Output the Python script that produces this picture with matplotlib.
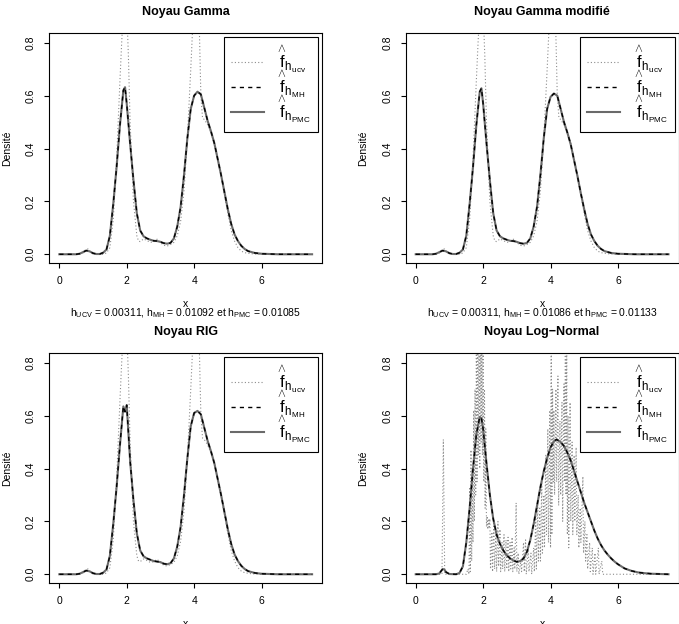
import matplotlib
matplotlib.use("Agg")
import matplotlib.pyplot as plt

plt.rcParams["font.family"] = ["Liberation Sans", "DejaVu Sans"]
plt.rcParams["mathtext.fontset"] = "custom"
plt.rcParams["mathtext.rm"] = "Liberation Sans"
plt.rcParams["mathtext.it"] = "Liberation Sans"
plt.rcParams["mathtext.bf"] = "Liberation Sans:bold"
plt.rcParams["mathtext.default"] = "rm"

# grille commune des estimateurs lisses (h_MH, h_PMC)
x_lisse = [0.0, 0.5, 0.6, 0.7, 0.8, 0.9, 1.0, 1.1, 1.2, 1.3, 1.4, 1.5, 1.6, 1.7, 1.8,
           1.9, 1.95, 2.0, 2.1, 2.2, 2.3, 2.4, 2.5, 2.6, 2.7, 2.8, 2.9, 3.0, 3.1, 3.2,
           3.3, 3.4, 3.5, 3.6, 3.7, 3.8, 3.9, 4.0, 4.1, 4.2, 4.3, 4.4, 4.5, 4.6, 4.7,
           4.8, 4.9, 5.0, 5.1, 5.2, 5.3, 5.4, 5.5, 5.6, 5.8, 6.0, 6.5, 7.5]

gamma_pmc = [0.0, 0.0, 0.002, 0.008, 0.014, 0.011, 0.004, 0.001, 0.001, 0.006, 0.018, 0.07,
             0.19, 0.33, 0.49, 0.62, 0.632, 0.57, 0.42, 0.28, 0.155, 0.09, 0.068, 0.06, 0.055,
             0.051, 0.05, 0.047, 0.042, 0.04, 0.043, 0.06, 0.105, 0.18, 0.30, 0.44, 0.55, 0.60,
             0.615, 0.605, 0.555, 0.505, 0.465, 0.42, 0.36, 0.30, 0.235, 0.17, 0.115, 0.075,
             0.05, 0.032, 0.02, 0.012, 0.005, 0.002, 0.0, 0.0]
gamma_mh = gamma_pmc

gmod_pmc = [0.0, 0.0, 0.002, 0.008, 0.014, 0.011, 0.004, 0.001, 0.001, 0.006, 0.018, 0.07,
            0.19, 0.33, 0.49, 0.615, 0.628, 0.57, 0.42, 0.28, 0.155, 0.09, 0.068, 0.06, 0.055,
            0.051, 0.05, 0.047, 0.042, 0.04, 0.043, 0.06, 0.105, 0.18, 0.30, 0.44, 0.55, 0.595,
            0.608, 0.60, 0.55, 0.50, 0.46, 0.415, 0.355, 0.295, 0.23, 0.17, 0.115, 0.075,
            0.05, 0.032, 0.02, 0.012, 0.005, 0.002, 0.0, 0.0]
gmod_mh = gmod_pmc

rig_pmc = [0.0, 0.0, 0.002, 0.008, 0.014, 0.011, 0.004, 0.001, 0.001, 0.006, 0.018, 0.07,
           0.19, 0.33, 0.49, 0.635, 0.615, 0.64, 0.43, 0.28, 0.155, 0.09, 0.068, 0.06, 0.055,
           0.05, 0.048, 0.046, 0.04, 0.038, 0.042, 0.06, 0.105, 0.18, 0.30, 0.44, 0.56, 0.61,
           0.618, 0.605, 0.555, 0.505, 0.465, 0.42, 0.36, 0.30, 0.235, 0.17, 0.115, 0.075,
           0.05, 0.032, 0.02, 0.012, 0.005, 0.002, 0.0, 0.0]
rig_mh = rig_pmc

# estimateur h_ucv (pointillé) pour Gamma, Gamma modifié et RIG
x_ucv = [0.0, 0.6, 0.7, 0.8, 0.85, 0.9, 1.0, 1.3, 1.4, 1.5, 1.6, 1.7, 1.8, 1.85, 1.9, 1.95,
         2.0, 2.05, 2.1, 2.2, 2.3, 2.35, 2.4, 2.5, 2.6, 2.7, 2.8, 2.9, 3.0, 3.1, 3.2, 3.3,
         3.4, 3.5, 3.6, 3.7, 3.8, 3.9, 3.95, 4.0, 4.05, 4.1, 4.15, 4.2, 4.25, 4.3, 4.4, 4.5,
         4.6, 4.7, 4.8, 4.9, 5.0, 5.1, 5.2, 5.3, 5.4, 5.5, 5.7, 6.0, 7.5]
y_ucv = [0.0, 0.0, 0.005, 0.02, 0.02, 0.012, 0.002, 0.0, 0.005, 0.025, 0.13, 0.36, 0.66,
         0.80, 0.92, 1.0, 0.93, 0.75, 0.50, 0.20, 0.07, 0.05, 0.048, 0.058, 0.052, 0.045,
         0.047, 0.057, 0.044, 0.034, 0.031, 0.037, 0.045, 0.07, 0.125, 0.24, 0.44, 0.70,
         0.84, 0.95, 0.95, 0.92, 0.88, 0.60, 0.515, 0.51, 0.49, 0.46, 0.42, 0.36, 0.30,
         0.225, 0.155, 0.09, 0.05, 0.025, 0.012, 0.006, 0.002, 0.0, 0.0]

# noyau log-normal
x_lnorm = [0.0, 0.6, 0.7, 0.8, 0.85, 0.9, 1.0, 1.2, 1.3, 1.4, 1.5, 1.6, 1.7, 1.8, 1.9,
           1.95, 2.0, 2.1, 2.2, 2.3, 2.4, 2.5, 2.6, 2.7, 2.8, 2.9, 3.0, 3.1, 3.2, 3.3, 3.4,
           3.5, 3.6, 3.7, 3.8, 3.9, 4.0, 4.1, 4.18, 4.3, 4.4, 4.5, 4.6, 4.7, 4.8, 4.9, 5.0,
           5.1, 5.2, 5.3, 5.4, 5.5, 5.6, 5.7, 5.8, 5.9, 6.0, 6.2, 6.4, 6.6, 6.8, 7.0, 7.5]
lnorm_pmc = [0.0, 0.0, 0.003, 0.02, 0.018, 0.008, 0.001, 0.0, 0.005, 0.03, 0.12, 0.25,
             0.40, 0.53, 0.595, 0.59, 0.55, 0.42, 0.30, 0.21, 0.15, 0.115, 0.09, 0.072,
             0.06, 0.052, 0.047, 0.05, 0.06, 0.085, 0.13, 0.19, 0.26, 0.33, 0.39, 0.44,
             0.48, 0.503, 0.51, 0.50, 0.485, 0.46, 0.43, 0.39, 0.35, 0.31, 0.27, 0.235,
             0.20, 0.165, 0.135, 0.11, 0.09, 0.074, 0.06, 0.048, 0.038, 0.022, 0.013, 0.007,
             0.004, 0.002, 0.0]
lnorm_mh = lnorm_pmc

x_lnorm_ucv = [0.0, 0.78, 0.82, 0.86, 1.5, 1.55, 1.58,
               1.60, 1.62, 1.64, 1.66, 1.68, 1.70, 1.72, 1.74, 1.76, 1.78, 1.80, 1.82, 1.84,
               1.86, 1.88, 1.90, 1.92, 1.94, 1.96, 1.98, 2.00, 2.02, 2.04, 2.06, 2.08, 2.10,
               2.12, 2.14, 2.16, 2.18, 2.20, 2.22, 2.26, 2.28, 2.32, 2.34, 2.38, 2.40, 2.44,
               2.46, 2.50, 2.52, 2.56, 2.58, 2.62, 2.64, 2.68, 2.70, 2.74, 2.76, 2.80, 2.82,
               2.86, 2.88, 2.92, 2.94, 2.98, 3.00, 3.04, 3.06, 3.12, 3.14, 3.20, 3.22, 3.26,
               3.28, 3.34, 3.36, 3.42, 3.44, 3.50, 3.52, 3.56, 3.58, 3.62, 3.64, 3.68, 3.70,
               3.74, 3.76, 3.80, 3.82, 3.86, 3.88, 3.92, 3.94, 3.98, 4.00, 4.02, 4.04, 4.06,
               4.08, 4.10, 4.12, 4.16, 4.18, 4.22, 4.24, 4.28, 4.30, 4.34, 4.36, 4.40, 4.42,
               4.44, 4.46, 4.48, 4.50, 4.52, 4.54, 4.58, 4.60, 4.64, 4.66, 4.70, 4.72, 4.76,
               4.78, 4.82, 4.84, 4.88, 4.90, 4.96, 4.98, 5.02, 5.04, 5.08, 5.10, 5.16, 5.18,
               5.24, 5.26, 5.32, 5.34, 5.42, 5.44, 5.52, 5.55, 6.0, 7.5]
y_lnorm_ucv = [0.0, 0.0, 0.51, 0.0, 0.0, 0.02, 0.0,
               0.33, 0.01, 0.47, 0.05, 0.40, 0.12, 0.62, 0.20, 0.70, 0.30, 0.86, 0.35, 0.90,
               0.45, 0.95, 0.40, 0.92, 0.50, 0.88, 0.45, 0.85, 0.35, 0.70, 0.25, 0.55, 0.18,
               0.22, 0.17, 0.21, 0.18, 0.21, 0.02, 0.16, 0.01, 0.20, 0.02, 0.16, 0.01, 0.20,
               0.03, 0.17, 0.01, 0.12, 0.02, 0.15, 0.01, 0.13, 0.02, 0.14, 0.01, 0.12, 0.02,
               0.14, 0.01, 0.10, 0.02, 0.27, 0.01, 0.08, 0.0, 0.05, 0.01, 0.12, 0.01, 0.13,
               0.0, 0.10, 0.01, 0.08, 0.0, 0.10, 0.01, 0.22, 0.02, 0.27, 0.05, 0.25, 0.05,
               0.35, 0.08, 0.30, 0.10, 0.45, 0.15, 0.55, 0.12, 0.62, 0.10, 0.95, 0.15, 0.70,
               0.35, 0.62, 0.30, 0.70, 0.35, 0.75, 0.26, 0.58, 0.30, 0.65, 0.20, 0.72, 0.35,
               0.95, 0.30, 0.90, 0.15, 0.60, 0.10, 0.65, 0.20, 0.50, 0.15, 0.45, 0.20, 0.48,
               0.15, 0.30, 0.10, 0.25, 0.12, 0.37, 0.08, 0.20, 0.05, 0.15, 0.02, 0.12, 0.01,
               0.10, 0.0, 0.08, 0.0, 0.10, 0.0, 0.05, 0.0, 0.0, 0.0]

titres = ["Noyau Gamma", "Noyau Gamma modifié", "Noyau RIG", "Noyau Log\u2212Normal"]
sous_titres = [r"$h_{UCV}$ = 0.00311, $h_{MH}$ = 0.01092 et $h_{PMC}$ = 0.01085",
               r"$h_{UCV}$ = 0.00311, $h_{MH}$ = 0.01086 et $h_{PMC}$ = 0.01133",
               None, None]
etiquettes = [r"$\overset{\wedge}{f}_{h_{ucv}}$", r"$\overset{\wedge}{f}_{h_{MH}}$",
              r"$\overset{\wedge}{f}_{h_{PMC}}$"]
x_ticks = [0, 2, 4, 6]
y_ticks = [0.0, 0.2, 0.4, 0.6, 0.8]

panneaux = [
    (x_ucv, y_ucv, x_lisse, gamma_mh, gamma_pmc),
    (x_ucv, y_ucv, x_lisse, gmod_mh, gmod_pmc),
    (x_ucv, y_ucv, x_lisse, rig_mh, rig_pmc),
    (x_lnorm_ucv, y_lnorm_ucv, x_lnorm, lnorm_mh, lnorm_pmc),
]

W, H = 679, 624
positions = [(49.2, 33), (405.6, 33), (49.2, 353), (405.6, 353)]
aw, ah = 273, 230

fig = plt.figure(figsize=(W / 100, H / 100), dpi=100)

for i, (xu, yu, xl, ymh, ypmc) in enumerate(panneaux):
    left, top = positions[i]
    ax = fig.add_axes([left / W, (H - top - ah) / H, aw / W, ah / H])
    l1, = ax.plot(xu, yu, color="#8c8c8c", lw=0.8, linestyle=(0, (1, 2)))
    l3, = ax.plot(xl, ypmc, color="#6a6a6a", lw=1.5)
    l2, = ax.plot(xl, ymh, color="black", lw=1.0, linestyle=(0, (3, 3)))
    ax.set_xlim(-0.3, 7.8)
    ax.set_ylim(-0.033, 0.837)
    ax.set_xticks(x_ticks)
    ax.set_yticks(y_ticks)
    ax.set_xticklabels([str(t) for t in x_ticks])
    ax.set_yticklabels([f"{t:.1f}" for t in y_ticks], rotation=90, va="center")
    ax.tick_params(direction="out", length=3.6, width=0.8, labelsize=7.5, pad=6)
    for s in ax.spines.values():
        s.set_linewidth(0.8)
    ax.set_title(titres[i], fontsize=9, fontweight="bold", pad=13)
    ax.set_xlabel("x", fontsize=7.5, va="center")
    ax.xaxis.set_label_coords(0.5, -0.178)
    ax.set_ylabel("Densité", fontsize=7.5, va="center")
    ax.yaxis.set_label_coords(-0.154, 0.5)
    if sous_titres[i]:
        ax.text(0.5, -0.218, sous_titres[i], transform=ax.transAxes,
                ha="center", va="center", fontsize=7.5)
    leg = ax.legend([l1, l2, l3], etiquettes, loc="upper right",
                    bbox_to_anchor=(0.985, 0.983), fontsize=12, handlelength=2.0,
                    handletextpad=0.8, borderpad=0.4, labelspacing=-0.4,
                    fancybox=False, framealpha=1, edgecolor="black", borderaxespad=0)
    leg.get_frame().set_linewidth(0.8)

fig.savefig("out.png", dpi=100)
